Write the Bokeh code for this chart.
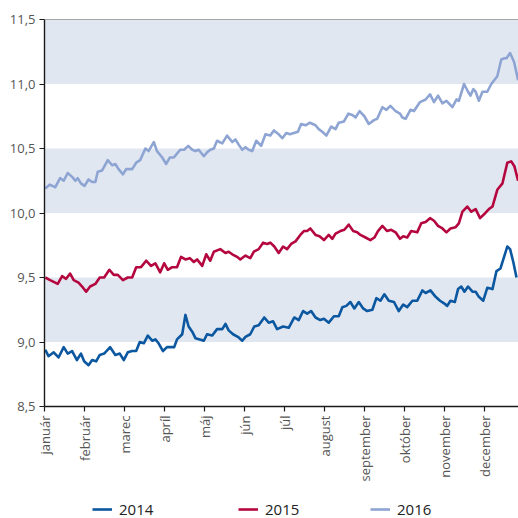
import math
from bokeh.plotting import figure
from bokeh.layouts import column
from bokeh.models import Range1d, FixedTicker, BoxAnnotation, Span, Legend, LegendItem
from bokeh.embed import file_html
from bokeh.resources import INLINE

# ---- data ----
months = ["január", "február", "marec", "apríl", "máj", "jún", "júl",
          "august", "september", "október", "november", "december"]
month_ticks = list(range(12))
y_ticks = [8.5, 9.0, 9.5, 10.0, 10.5, 11.0, 11.5]
y_tick_labels = ["8,5", "9,0", "9,5", "10,0", "10,5", "11,0", "11,5"]
band_bottoms = [9.0, 10.0, 11.0]
band_size = 0.5

x2014 = [0.02, 0.10, 0.23, 0.35, 0.48, 0.58, 0.69, 0.81, 0.91, 0.99, 1.10, 1.19, 1.29, 1.38, 1.49,
         1.64, 1.77, 1.88, 1.98, 2.08, 2.19, 2.29, 2.38, 2.48, 2.58, 2.69, 2.77, 2.85, 2.96, 3.06,
         3.17, 3.24, 3.31, 3.44, 3.52, 3.60, 3.69, 3.77, 3.88, 3.98, 4.06, 4.19, 4.31, 4.44, 4.52,
         4.60, 4.71, 4.83, 4.94, 5.02, 5.14, 5.24, 5.35, 5.49, 5.60, 5.71, 5.81, 5.96, 6.10, 6.24,
         6.35, 6.46, 6.56, 6.66, 6.77, 6.89, 6.98, 7.10, 7.23, 7.35, 7.44, 7.54, 7.64, 7.74, 7.85,
         7.96, 8.06, 8.19, 8.29, 8.39, 8.49, 8.60, 8.73, 8.85, 8.96, 9.06, 9.19, 9.31, 9.44, 9.52,
         9.64, 9.77, 9.88, 9.98, 10.06, 10.14, 10.25, 10.33, 10.41, 10.49, 10.58, 10.69, 10.77,
         10.85, 10.96, 11.06, 11.19, 11.29, 11.39, 11.48, 11.56, 11.63, 11.71, 11.79]
y2014 = [8.94, 8.89, 8.92, 8.88, 8.96, 8.91, 8.93, 8.86, 8.91, 8.85, 8.82, 8.86, 8.85, 8.90, 8.91,
         8.96, 8.90, 8.91, 8.86, 8.92, 8.93, 8.93, 9.00, 8.99, 9.05, 9.01, 9.02, 8.99, 8.93, 8.96,
         8.96, 8.96, 9.02, 9.06, 9.21, 9.12, 9.08, 9.03, 9.02, 9.01, 9.06, 9.05, 9.10, 9.10, 9.14,
         9.09, 9.06, 9.04, 9.01, 9.04, 9.06, 9.12, 9.13, 9.19, 9.15, 9.16, 9.10, 9.12, 9.11, 9.19,
         9.17, 9.24, 9.22, 9.24, 9.19, 9.17, 9.18, 9.15, 9.20, 9.20, 9.27, 9.28, 9.31, 9.26, 9.31,
         9.26, 9.24, 9.25, 9.34, 9.32, 9.37, 9.32, 9.31, 9.24, 9.29, 9.27, 9.32, 9.32, 9.40, 9.38,
         9.40, 9.35, 9.32, 9.30, 9.28, 9.32, 9.31, 9.41, 9.43, 9.39, 9.43, 9.39, 9.39,
         9.35, 9.32, 9.42, 9.41, 9.55, 9.57, 9.66, 9.74, 9.72, 9.62, 9.50]

x2015 = [0.02, 0.14, 0.33, 0.44, 0.54, 0.64, 0.73, 0.85, 0.94, 1.04, 1.14, 1.27, 1.38, 1.49, 1.62,
         1.73, 1.83, 1.96, 2.08, 2.19, 2.29, 2.41, 2.54, 2.66, 2.77, 2.89, 2.99, 3.08, 3.19, 3.31,
         3.41, 3.52, 3.63, 3.73, 3.81, 3.94, 4.04, 4.14, 4.23, 4.39, 4.52, 4.60, 4.69, 4.81, 4.89,
         5.02, 5.14, 5.23, 5.35, 5.46, 5.56, 5.64, 5.74, 5.85, 5.96, 6.06, 6.16, 6.27, 6.39, 6.48,
         6.56, 6.64, 6.77, 6.87, 6.98, 7.10, 7.19, 7.27, 7.39, 7.49, 7.60, 7.71, 7.81, 7.89, 8.02,
         8.14, 8.24, 8.33, 8.44, 8.56, 8.66, 8.77, 8.88, 8.96, 9.06, 9.16, 9.31, 9.41, 9.52, 9.63,
         9.73, 9.83, 9.94, 10.04, 10.14, 10.27, 10.35, 10.44, 10.56, 10.66, 10.77, 10.88, 10.98,
         11.10, 11.19, 11.31, 11.44, 11.56, 11.66, 11.74, 11.83]
y2015 = [9.50, 9.48, 9.45, 9.51, 9.49, 9.53, 9.48, 9.46, 9.43, 9.39, 9.43, 9.45, 9.50, 9.50, 9.56,
         9.52, 9.52, 9.48, 9.50, 9.50, 9.58, 9.58, 9.63, 9.59, 9.61, 9.54, 9.61, 9.56, 9.58, 9.58,
         9.66, 9.64, 9.65, 9.62, 9.64, 9.59, 9.68, 9.63, 9.70, 9.72, 9.69, 9.70, 9.68, 9.66, 9.64,
         9.67, 9.65, 9.70, 9.72, 9.77, 9.76, 9.77, 9.74, 9.69, 9.74, 9.72, 9.76, 9.78, 9.83, 9.86,
         9.86, 9.88, 9.83, 9.82, 9.79, 9.83, 9.80, 9.84, 9.86, 9.87, 9.91, 9.86, 9.85, 9.83, 9.81,
         9.79, 9.81, 9.86, 9.90, 9.86, 9.87, 9.85, 9.80, 9.82, 9.81, 9.86, 9.85, 9.92, 9.93, 9.96,
         9.94, 9.90, 9.88, 9.85, 9.88, 9.89, 9.92, 10.01, 10.05, 10.01, 10.03, 9.96, 9.99,
         10.03, 10.05, 10.18, 10.23, 10.39, 10.40, 10.36, 10.25]

x2016 = [0.02, 0.13, 0.27, 0.39, 0.48, 0.58, 0.69, 0.77, 0.83, 0.91, 1.00, 1.10, 1.19, 1.27, 1.33,
         1.44, 1.58, 1.69, 1.77, 1.85, 1.96, 2.04, 2.19, 2.29, 2.39, 2.52, 2.60, 2.73, 2.81, 2.94,
         3.04, 3.13, 3.23, 3.31, 3.39, 3.49, 3.59, 3.69, 3.77, 3.85, 3.98, 4.06, 4.14, 4.23, 4.31,
         4.44, 4.56, 4.69, 4.77, 4.85, 4.94, 5.02, 5.10, 5.19, 5.29, 5.41, 5.52, 5.64, 5.73, 5.85,
         5.94, 6.04, 6.13, 6.23, 6.33, 6.41, 6.52, 6.63, 6.77, 6.85, 6.94, 7.04, 7.16, 7.27, 7.35,
         7.48, 7.59, 7.69, 7.77, 7.87, 7.99, 8.10, 8.23, 8.31, 8.44, 8.54, 8.64, 8.77, 8.88, 8.94,
         9.02, 9.14, 9.23, 9.38, 9.52, 9.63, 9.73, 9.83, 9.94, 10.04, 10.19, 10.29, 10.35, 10.48,
         10.58, 10.64, 10.71, 10.77, 10.85, 10.94, 11.06, 11.16, 11.31, 11.41, 11.49, 11.54, 11.63,
         11.73, 11.83]
y2016 = [10.19, 10.22, 10.20, 10.27, 10.25, 10.31, 10.28, 10.25, 10.27, 10.23, 10.21, 10.26, 10.24,
         10.24, 10.32, 10.33, 10.41, 10.37, 10.38, 10.34, 10.30, 10.34, 10.34, 10.39, 10.41, 10.50,
         10.48, 10.55, 10.48, 10.43, 10.38, 10.43, 10.43, 10.46, 10.49, 10.49, 10.52, 10.49, 10.48,
         10.49, 10.44, 10.47, 10.49, 10.50, 10.56, 10.54, 10.60, 10.55, 10.57, 10.53, 10.49, 10.51,
         10.49, 10.48, 10.56, 10.52, 10.61, 10.60, 10.64, 10.61, 10.58, 10.62, 10.61, 10.62, 10.63,
         10.69, 10.68, 10.70, 10.68, 10.65, 10.63, 10.60, 10.67, 10.65, 10.70, 10.71, 10.77, 10.76,
         10.74, 10.79, 10.75, 10.69, 10.72, 10.73, 10.82, 10.80, 10.83, 10.79, 10.77, 10.74, 10.73,
         10.80, 10.79, 10.86, 10.88, 10.92, 10.86, 10.91, 10.85, 10.87, 10.82, 10.88, 10.87, 11.00,
         10.94, 10.91, 10.96, 10.94, 10.87, 10.94, 10.94, 11.00, 11.06, 11.19, 11.20, 11.20, 11.24,
         11.17, 11.03]

series = [("2014", x2014, y2014, "#0b57a0"),
          ("2015", x2015, y2015, "#b5073f"),
          ("2016", x2016, y2016, "#8ea5d3")]

FONT = "Open Sans"
X_RANGE = (0, 11.84)

# ---- main chart ----
p = figure(width=518, height=490, output_backend="svg", toolbar_location=None,
           x_range=Range1d(*X_RANGE), y_range=Range1d(y_ticks[0], y_ticks[-1]),
           min_border_left=44, min_border_right=0, min_border_top=19, min_border_bottom=84)
p.outline_line_color = None
p.xgrid.visible = False
p.ygrid.visible = False
p.background_fill_color = "white"
p.border_fill_color = "white"

for b in band_bottoms:
    p.add_layout(BoxAnnotation(bottom=b, top=b + band_size, fill_color="#e1e7f1", fill_alpha=1,
                               line_color=None, level="underlay"))

p.add_layout(Span(location=y_ticks[-1], dimension="width", line_color="#555555", line_width=1.2))

for name, xs, ys, col in series:
    p.line(xs, ys, line_color=col, line_width=2.6, line_join="round")

p.yaxis.ticker = FixedTicker(ticks=y_ticks)
p.yaxis.major_label_overrides = {t: l for t, l in zip(y_ticks, y_tick_labels)}
p.xaxis.ticker = FixedTicker(ticks=month_ticks)
p.xaxis.major_label_overrides = {t: l for t, l in zip(month_ticks, months)}
p.xaxis.major_label_orientation = math.pi / 2
for ax in (p.xaxis, p.yaxis):
    ax.axis_line_color = "#1a1a1a"
    ax.axis_line_width = 1.4
    ax.major_tick_line_color = "#1a1a1a"
    ax.major_tick_line_width = 1.2
    ax.major_tick_in = 0
    ax.major_tick_out = 5
    ax.minor_tick_line_color = None
    ax.major_label_text_font = FONT
    ax.major_label_text_color = "#555555"
    ax.major_label_text_font_size = "13px"
    ax.major_label_standoff = 4

# ---- legend strip (same series drawn, but out of this strip's visible range) ----
lg = figure(width=518, height=28, output_backend="svg", toolbar_location=None,
            x_range=Range1d(*X_RANGE), y_range=Range1d(0, 1),
            x_axis_location=None, y_axis_location=None,
            min_border_left=44, min_border_right=0, min_border_top=0, min_border_bottom=0)
lg.outline_line_color = None
lg.xgrid.visible = False
lg.ygrid.visible = False
lg.background_fill_color = "white"
lg.border_fill_color = "white"

legend_x = [48, 194, 326]
for (name, xs, ys, col), lx in zip(series, legend_x):
    r = lg.line(xs, ys, line_color=col, line_width=2.6)
    leg = Legend(items=[LegendItem(label=name, renderers=[r])], location=(lx, -1),
                 padding=0, margin=0, border_line_color=None, background_fill_alpha=0,
                 glyph_width=20, glyph_height=10, label_height=10, label_standoff=7,
                 label_text_font=FONT, label_text_font_size="15px", label_text_color="#222222")
    lg.add_layout(leg, "center")

layout = column(p, lg, spacing=0)
open("out.html", "w").write(file_html(layout, INLINE))
